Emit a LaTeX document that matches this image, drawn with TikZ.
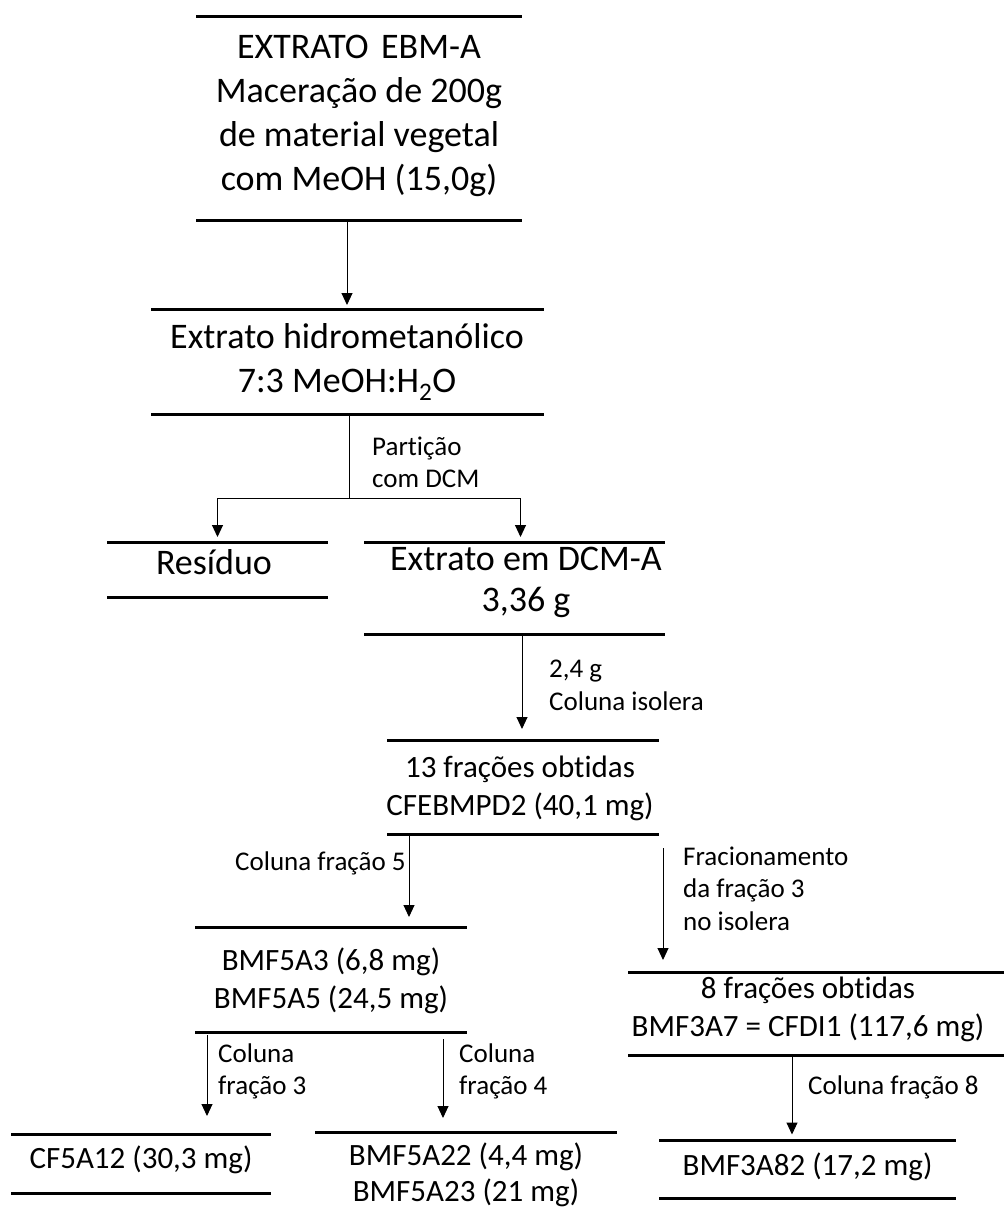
\documentclass[tikz,border=0pt]{standalone}
\usepackage{fontspec}
\setmainfont{Carlito}[Ligatures=NoCommon]
\usetikzlibrary{arrows.meta}
\begin{document}
\begin{tikzpicture}[x=1pt,y=-1pt,
  boxframe/.style 2 args={minimum width=#1, minimum height=#2, inner sep=0pt, outer sep=0pt},
  bigtext/.style={align=center, inner sep=0pt, font=\fontsize{36}{44}\selectfont},
  midtext/.style={align=center, inner sep=0pt, font=\fontsize{31}{38}\selectfont},
  lbl/.style={align=left, anchor=west, inner sep=0pt, font=\fontsize{27}{32.5}\selectfont},
  rulel/.style={line width=3pt},
  conn/.style={line width=1pt},
  arr/.style={conn, -{Triangle[length=12pt,width=11pt]}},
]
\useasboundingbox[fill=white] (0,0) rectangle (1006,1207);

% frames
\node[boxframe={326}{203}] (b1) at (359,118.5) {};
\node[boxframe={393}{105}] (b2) at (347.5,361.5) {};
\node[boxframe={221}{55}] (res) at (217.5,569.5) {};
\node[boxframe={301}{92}] (dcm) at (514.5,588) {};
\node[boxframe={272}{94}] (f13) at (523,787) {};
\node[boxframe={272}{105}] (f5) at (331,979.5) {};
\node[boxframe={376}{83}] (f8) at (816,1013.5) {};
\node[boxframe={260}{59}] (cf) at (141,1163.5) {};
\node[boxframe={302}{70}] (bm22) at (466,1167) {};
\node[boxframe={297}{58}] (bm82) at (807.5,1169.5) {};

\foreach \b in {b1,b2,res,dcm,f13,f5,f8,cf,bm82}
  \draw[rulel] (\b.north west) -- (\b.north east) (\b.south west) -- (\b.south east);
\draw[rulel] (bm22.north west) -- (bm22.north east);

% texts
\node[bigtext] (b1t) at (359,116) {EXTRATO\hspace{0.12em} EBM-A\\Maceração de 200g\\de material vegetal\\com MeOH (15,0g)};
\node[bigtext] (b2t) at (347,362) {Extrato hidrometanólico\\7:3 MeOH:H\textsubscript{2}O};
\node[bigtext] (rest) at (214,562) {Resíduo};
\node[bigtext, font=\fontsize{36}{41.5}\selectfont] (dcmt) at (526,582.5) {Extrato em DCM-A\\3,36 g};
\node[midtext] (f13t) at (520,788.5) {13 frações obtidas\\CFEBMPD2 (40,1 mg)};
\node[midtext] (f5t) at (331,981) {BMF5A3 (6,8 mg)\\BMF5A5 (24,5 mg)};
\node[midtext] (f8t) at (808,1009) {8 frações obtidas\\BMF3A7 = CFDI1 (117,6 mg)};
\node[midtext] (cft) at (141,1160) {CF5A12 (30,3 mg)};
\node[midtext, font=\fontsize{31}{36}\selectfont] (bm22t) at (466,1174.5) {BMF5A22 (4,4 mg)\\BMF5A23 (21 mg)};
\node[midtext] (bm82t) at (807.5,1167) {BMF3A82 (17,2 mg)};

% labels
\node[lbl] (l1) at (372,462.5) {Partição\\com DCM};
\node[lbl] (l2) at (549,685.5) {2,4 g\\Coluna isolera};
\node[lbl] (l3) at (235,863) {Coluna fração 5};
\node[lbl] (l4) at (683,888.5) {Fracionamento\\da fração 3\\no isolera};
\node[lbl] (l5) at (218,1071.5) {Coluna\\fração 3};
\node[lbl] (l6) at (459,1071.5) {Coluna\\fração 4};
\node[lbl] (l7) at (808,1087) {Coluna fração 8};

% connectors
\draw[arr, shorten >=4pt] ([xshift=-12pt]b1.south) -- ([xshift=-0.5pt]b2.north);
\coordinate (split) at (349,498);
\draw[conn] ([xshift=1.5pt]b2.south) -- (split);
\draw[arr, shorten >=5pt] (split) -| (res.north);
\draw[arr, shorten >=5pt] (split) -| ([xshift=6pt]dcm.north);
\draw[arr, shorten >=11pt] ([xshift=7.5pt]dcm.south) -- ([xshift=-1pt]f13.north);
\draw[arr, shorten <=2pt, shorten >=10pt] ([xshift=-114pt]f13.south) -- ([xshift=78pt]f5.north);
\draw[arr, shorten <=14pt, shorten >=12pt] ([xshift=140pt]f13.south) -- ([xshift=-153pt]f8.north);
\draw[arr, shorten <=3pt, shorten >=18pt] ([xshift=-124pt]f5.south) -- ([xshift=66pt]cf.north);
\draw[arr, shorten <=7pt, shorten >=14pt] ([xshift=112pt]f5.south) -- ([xshift=-23pt]bm22.north);
\draw[arr, shorten >=6pt] ([xshift=-24pt]f8.south) -- ([xshift=-15.5pt]bm82.north);
\end{tikzpicture}
\end{document}
